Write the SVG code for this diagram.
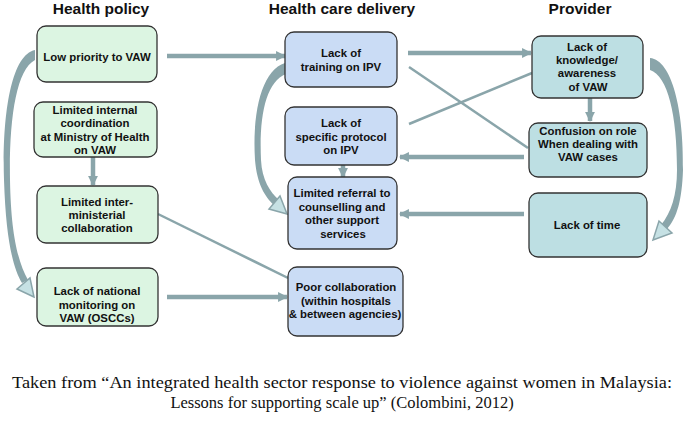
<svg xmlns="http://www.w3.org/2000/svg" width="685" height="422" viewBox="0 0 685 422">
<style>
  .hdr{font-family:"Liberation Sans",Arial,sans-serif;font-weight:bold;font-size:15.5px;fill:#111;text-anchor:middle}
  .lbl{font-family:"Liberation Sans",Arial,sans-serif;font-weight:bold;font-size:11.4px;fill:#111;text-anchor:middle}
  .cap{font-family:"Liberation Serif","Times New Roman",serif;font-size:16.5px;fill:#111;text-anchor:middle}
  .g{fill:#dcf5e2;stroke:#333;stroke-width:1.3}
  .b{fill:#cadcf5;stroke:#333;stroke-width:1.3}
  .t{fill:#bddfe3;stroke:#333;stroke-width:1.3}
  .thick{stroke:#8aa5aa;stroke-width:4.5;fill:none;marker-end:url(#ah)}
  .thin{stroke:#8aa5aa;stroke-width:2.5;fill:none}
  .body{fill:#8aa5aa;stroke:none}
  .head{fill:#c6e1e4;stroke:#8aa5aa;stroke-width:1.5}
</style>
<defs>
  <marker id="ah" viewBox="0 0 10 10" refX="9" refY="5" markerWidth="2.2" markerHeight="2.2" orient="auto" markerUnits="strokeWidth">
    <path d="M0,0 L10,5 L0,10 z" fill="#8aa5aa"/>
  </marker>
</defs>
<rect width="685" height="422" fill="#fff"/>
<text class="hdr" x="101" y="14">Health policy</text>
<text class="hdr" x="342" y="14">Health care delivery</text>
<text class="hdr" x="580" y="14">Provider</text>

<g id="connectors">
  <line class="thick" x1="167" y1="56" x2="285" y2="56"/>
  <line class="thick" x1="408" y1="53" x2="531" y2="53"/>
  <line class="thin" x1="409" y1="67" x2="528" y2="148"/>
  <line class="thin" x1="409" y1="124" x2="532" y2="73"/>
  <line class="thick" x1="524" y1="157" x2="400" y2="157"/>
  <line class="thick" x1="590" y1="98" x2="590" y2="121"/>
  <line class="thick" x1="343" y1="165" x2="343" y2="177"/>
  <line class="thick" x1="93" y1="157" x2="93" y2="185"/>
  <line class="thick" x1="524" y1="214" x2="400" y2="214"/>
  <line class="thin" x1="158" y1="214" x2="288" y2="278"/>
  <line class="thick" x1="167" y1="297" x2="287" y2="297"/>
  <path class="body" d="M35 50 C10 55,2 120,4 180 C6 240,13 268,22 283 L28 280 C18 262,11 235,10 180 C9 120,16 70,35 60 Z"/>
  <polygon class="head" points="34,297 17,289 30,278"/>
  <path class="body" d="M285 63 C262 70,252 112,255 160 C257 184,265 197,274 205 L279 200 C270 192,262 180,261 160 C259 115,266 82,286 74 Z"/>
  <polygon class="head" points="287,214 269,209 280,196"/>
  <path class="body" d="M650 58 C672 60,684 110,683 170 C682 200,677 218,667 229 L661 225 C671 213,677 195,677 170 C677 115,668 76,650 70 Z"/>
  <polygon class="head" points="653,240 659,221 672,233"/>
</g>

<g id="n-low-priority"><rect class="g" x="37" y="26" width="120" height="56" rx="9"/><text class="lbl" x="97" y="61">Low priority to VAW</text></g>
<g id="n-internal-coord"><rect class="g" x="34" y="102" width="123" height="55" rx="9"/><text class="lbl" x="95" y="114">Limited internal</text><text class="lbl" x="95" y="127">coordination</text><text class="lbl" x="95" y="141">at Ministry of Health</text><text class="lbl" x="95" y="154">on VAW</text></g>
<g id="n-inter-ministerial"><rect class="g" x="37" y="186" width="121" height="57" rx="9"/><text class="lbl" x="97" y="206">Limited inter-</text><text class="lbl" x="97" y="219">ministerial</text><text class="lbl" x="97" y="232">collaboration</text></g>
<g id="n-monitoring"><rect class="g" x="37" y="268" width="121" height="58" rx="9"/><text class="lbl" x="97" y="295">Lack of national</text><text class="lbl" x="97" y="309">monitoring on</text><text class="lbl" x="97" y="322">VAW (OSCCs)</text></g>

<g id="n-training"><rect class="b" x="285" y="32" width="112" height="55" rx="9"/><text class="lbl" x="341" y="57">Lack of</text><text class="lbl" x="341" y="71">training on IPV</text></g>
<g id="n-protocol"><rect class="b" x="285" y="107" width="112" height="58" rx="9"/><text class="lbl" x="341" y="127">Lack of</text><text class="lbl" x="341" y="141">specific protocol</text><text class="lbl" x="341" y="154">on IPV</text></g>
<g id="n-referral"><rect class="b" x="288" y="177" width="109" height="72" rx="9"/><text class="lbl" x="342" y="197">Limited referral to</text><text class="lbl" x="342" y="211">counselling and</text><text class="lbl" x="342" y="224">other support</text><text class="lbl" x="343" y="238">services</text></g>
<g id="n-poor-collab"><rect class="b" x="288" y="267" width="115" height="69" rx="9"/><text class="lbl" x="346" y="291">Poor collaboration</text><text class="lbl" x="346" y="305">(within hospitals</text><text class="lbl" x="345" y="318">&amp; between agencies)</text></g>

<g id="n-knowledge"><rect class="t" x="532" y="36" width="111" height="62" rx="9"/><text class="lbl" x="587" y="51">Lack of</text><text class="lbl" x="587" y="64">knowledge/</text><text class="lbl" x="587" y="77">awareness</text><text class="lbl" x="588" y="91">of VAW</text></g>
<g id="n-confusion"><rect class="t" x="529" y="123" width="118" height="54" rx="9"/><text class="lbl" x="588" y="135">Confusion on role</text><text class="lbl" x="588" y="148">When dealing with</text><text class="lbl" x="588" y="161">VAW cases</text></g>
<g id="n-time"><rect class="t" x="529" y="193" width="118" height="64" rx="9"/><text class="lbl" x="587" y="229">Lack of time</text></g>

<text class="cap" x="342" y="388" style="font-size:17px" textLength="660" lengthAdjust="spacingAndGlyphs">Taken from “An integrated health sector response to violence against women in Malaysia:</text>
<text class="cap" x="342" y="408">Lessons for supporting scale up” (Colombini, 2012)</text>
</svg>
